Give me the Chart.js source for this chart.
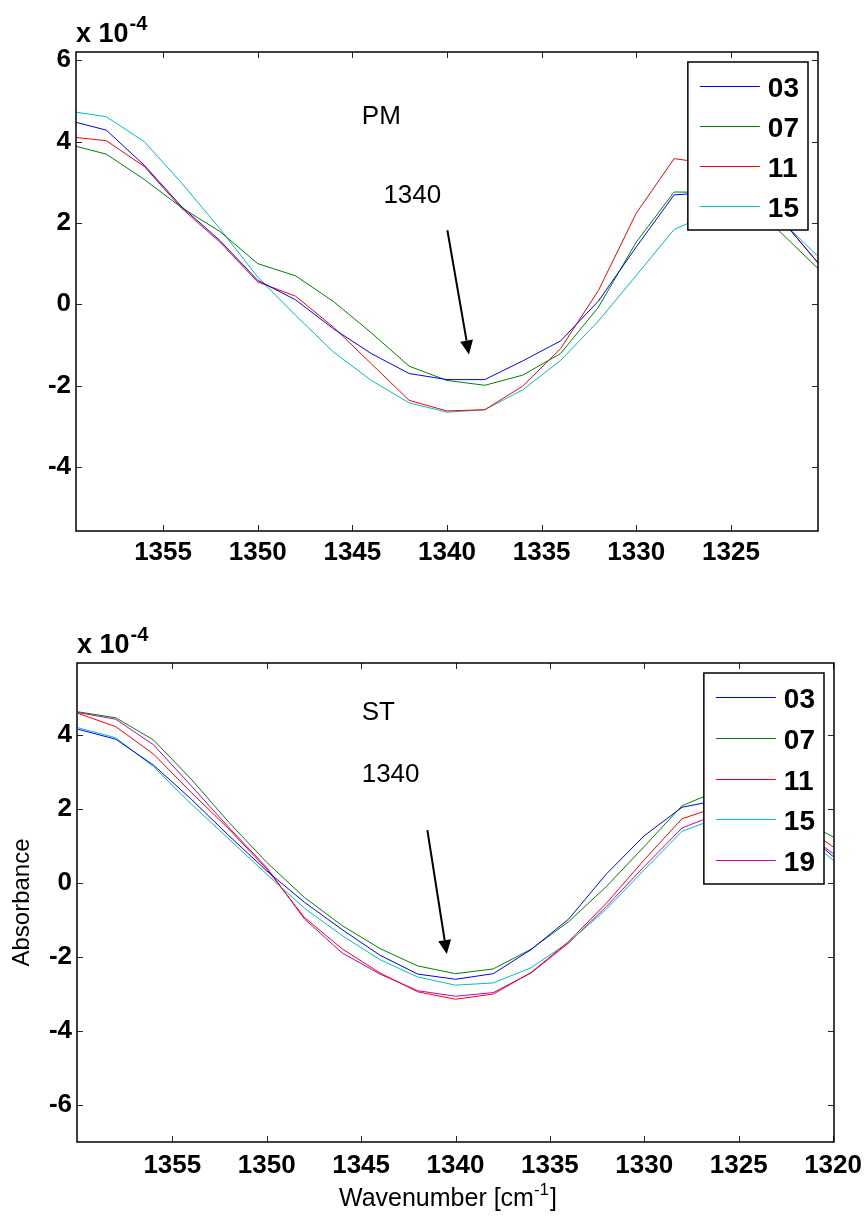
<!DOCTYPE html>
<html>
<head>
<meta charset="utf-8">
<script src="https://cdn.jsdelivr.net/npm/chart.js@4.4.1/dist/chart.umd.min.js"></script>
<style>
  body { margin: 0; background: #fff; }
  .box { position: absolute; left: 0; width: 866px; }
</style>
</head>
<body>
<div class="box" style="top:0;height:600px"><canvas id="pmChart" width="866" height="600"></canvas></div>
<div class="box" style="top:610px;height:610px"><canvas id="stChart" width="866" height="610"></canvas></div>
<script>
const FONT = '"Liberation Sans", Arial, sans-serif';
Chart.defaults.font.family = FONT;
Chart.defaults.color = '#000';

const wavenumbers = [1360, 1358, 1356, 1354, 1352, 1350, 1348, 1346, 1344, 1342, 1340,
                     1338, 1336, 1334, 1332, 1330, 1328, 1326, 1324, 1322, 1320];

// PM spectra (x 10^-4)
const pmLabels = ['03', '07', '11', '15'];
const pm03 = [4.52, 4.28, 3.42, 2.39, 1.57, 0.59, 0.11, -0.60, -1.21, -1.70, -1.85, -1.85, -1.39, -0.90, 0.08, 1.41, 2.69, 2.75, 2.60, 1.90, 0.80];
const pm07 = [3.93, 3.69, 3.07, 2.37, 1.79, 1.00, 0.70, 0.07, -0.70, -1.52, -1.87, -1.99, -1.74, -1.21, -0.07, 1.53, 2.76, 2.75, 2.50, 1.60, 0.70];
const pm11 = [4.12, 4.02, 3.39, 2.35, 1.53, 0.55, 0.20, -0.56, -1.46, -2.36, -2.62, -2.59, -2.01, -1.09, 0.34, 2.24, 3.58, 3.45, 2.90, 1.90, 0.80];
const pm15 = [4.75, 4.61, 4.00, 2.97, 1.86, 0.67, -0.27, -1.17, -1.87, -2.42, -2.65, -2.59, -2.10, -1.38, -0.41, 0.71, 1.84, 2.25, 2.30, 1.90, 1.00];

// ST spectra (x 10^-4)
const stLabels = ['03', '07', '11', '15', '19'];
const st03 = [4.16, 3.89, 3.19, 2.27, 1.28, 0.33, -0.52, -1.26, -1.95, -2.46, -2.60, -2.45, -1.80, -0.97, 0.25, 1.28, 2.05, 2.25, 2.05, 1.60, 0.72];
const st07 = [4.63, 4.47, 3.87, 2.81, 1.64, 0.56, -0.39, -1.15, -1.77, -2.24, -2.45, -2.32, -1.79, -1.04, -0.09, 0.99, 2.09, 2.52, 2.40, 1.80, 1.25];
const st11 = [4.59, 4.23, 3.49, 2.45, 1.46, 0.38, -0.93, -1.78, -2.43, -2.94, -3.14, -3.00, -2.42, -1.58, -0.54, 0.63, 1.74, 2.08, 2.05, 1.70, 0.98];
const st15 = [4.20, 3.93, 3.15, 2.14, 1.19, 0.24, -0.68, -1.42, -2.07, -2.54, -2.76, -2.70, -2.29, -1.60, -0.70, 0.36, 1.40, 1.78, 1.90, 1.45, 0.62];
const st19 = [4.61, 4.43, 3.74, 2.63, 1.50, 0.42, -0.97, -1.89, -2.46, -2.91, -3.06, -2.96, -2.43, -1.62, -0.63, 0.45, 1.49, 1.89, 1.95, 1.55, 0.80];

const pmXTicks = [1355, 1350, 1345, 1340, 1335, 1330, 1325];
const stXTicks = [1355, 1350, 1345, 1340, 1335, 1330, 1325, 1320];
const pmYTicks = [-4, -2, 0, 2, 4, 6];
const stYTicks = [-6, -4, -2, 0, 2, 4];

const seriesColors = ['#0000ff', '#008000', '#ff0000', '#00bfbf', '#bf00bf'];

function makeDatasets(labels, series) {
  return labels.map((lab, i) => ({
    label: lab,
    data: wavenumbers.map((w, j) => ({ x: w, y: series[i][j] })),
    borderColor: seriesColors[i],
    borderWidth: 1,
    pointRadius: 0,
    tension: 0,
    fill: false
  }));
}

function toPx(chart, x, y) {
  return [chart.scales.x.getPixelForValue(x), chart.scales.y.getPixelForValue(y)];
}

// matlab look: box, inward ticks, exponent, notes, arrow, legend
function matlabDecor(cfg) {
  return {
    id: 'matlabDecor',
    afterDraw(chart) {
      const ctx = chart.ctx, a = chart.chartArea;
      ctx.save();

      ctx.strokeStyle = '#262626';
      ctx.lineWidth = 1;
      ctx.beginPath();
      chart.scales.x.ticks.forEach(t => {
        const xp = Math.round(chart.scales.x.getPixelForValue(t.value)) + 0.5;
        ctx.moveTo(xp, a.bottom); ctx.lineTo(xp, a.bottom - 6);
        ctx.moveTo(xp, a.top); ctx.lineTo(xp, a.top + 6);
      });
      chart.scales.y.ticks.forEach(t => {
        const yp = Math.round(chart.scales.y.getPixelForValue(t.value)) + 0.5;
        ctx.moveTo(a.left, yp); ctx.lineTo(a.left + 6, yp);
        ctx.moveTo(a.right, yp); ctx.lineTo(a.right - 6, yp);
      });
      ctx.stroke();

      ctx.strokeStyle = '#000';
      ctx.lineWidth = 1.5;
      ctx.strokeRect(a.left, a.top, a.right - a.left, a.bottom - a.top);

      // exponent
      ctx.fillStyle = '#000';
      ctx.textAlign = 'left';
      ctx.textBaseline = 'alphabetic';
      ctx.font = 'bold 27px ' + FONT;
      ctx.fillText('x 10', a.left, a.top - 10);
      const ew = ctx.measureText('x 10').width;
      ctx.font = 'bold 20px ' + FONT;
      ctx.fillText('-4', a.left + ew + 1, a.top - 22);

      // notes
      ctx.font = '26px ' + FONT;
      cfg.notes.forEach(n => {
        const [x, y] = toPx(chart, n.x, n.y);
        ctx.fillText(n.text, x, y);
      });

      // arrow
      const [x1, y1] = toPx(chart, cfg.arrow[0], cfg.arrow[1]);
      const [x2, y2] = toPx(chart, cfg.arrow[2], cfg.arrow[3]);
      const ang = Math.atan2(y2 - y1, x2 - x1);
      const hl = 14, hw = 6.5;
      const bx = x2 - hl * Math.cos(ang), by = y2 - hl * Math.sin(ang);
      ctx.lineWidth = 2;
      ctx.beginPath();
      ctx.moveTo(x1, y1); ctx.lineTo(bx, by);
      ctx.stroke();
      ctx.beginPath();
      ctx.moveTo(x2, y2);
      ctx.lineTo(bx + hw * Math.sin(ang), by - hw * Math.cos(ang));
      ctx.lineTo(bx - hw * Math.sin(ang), by + hw * Math.cos(ang));
      ctx.closePath();
      ctx.fill();

      // legend
      const ds = chart.data.datasets;
      ctx.font = 'bold 28px ' + FONT;
      let tw = 0;
      ds.forEach(d => { tw = Math.max(tw, ctx.measureText(d.label).width); });
      const bw = 80 + tw + 9;
      const bh = 48 + cfg.rowH * (ds.length - 1);
      const bl = a.right - 10 - bw, bt = a.top + 10;
      ctx.fillStyle = '#fff';
      ctx.fillRect(bl, bt, bw, bh);
      ctx.strokeStyle = '#000';
      ctx.lineWidth = 1.5;
      ctx.strokeRect(bl, bt, bw, bh);
      ds.forEach((d, i) => {
        const ry = Math.round(bt + 24 + i * cfg.rowH) + 0.5;
        ctx.strokeStyle = d.borderColor;
        ctx.lineWidth = 1;
        ctx.beginPath();
        ctx.moveTo(bl + 12, ry); ctx.lineTo(bl + 72, ry);
        ctx.stroke();
        ctx.fillStyle = '#000';
        ctx.fillText(d.label, bl + 80, ry + 10);
      });

      // axis titles
      if (cfg.titles) {
        ctx.fillStyle = '#000';
        ctx.font = '25px ' + FONT;
        const p1 = 'Wavenumber [cm', p3 = ']';
        const w1 = ctx.measureText(p1).width, w3 = ctx.measureText(p3).width;
        ctx.font = '17px ' + FONT;
        const w2 = ctx.measureText('-1').width;
        let sx = (a.left + a.right) / 2 - 8 - (w1 + w2 + w3) / 2;
        const base = a.bottom + 64;
        ctx.font = '25px ' + FONT;
        ctx.fillText(p1, sx, base);
        ctx.font = '17px ' + FONT;
        ctx.fillText('-1', sx + w1, base - 11);
        ctx.font = '25px ' + FONT;
        ctx.fillText(p3, sx + w1 + w2 + 1, base);

        ctx.translate(22, (a.top + a.bottom) / 2);
        ctx.rotate(-Math.PI / 2);
        ctx.textAlign = 'center';
        ctx.textBaseline = 'middle';
        ctx.font = '24px ' + FONT;
        ctx.fillText('Absorbance', 0, 0);
      }
      ctx.restore();
    }
  };
}

function makeChart(id, labels, series, opt) {
  return new Chart(document.getElementById(id), {
    type: 'line',
    data: { datasets: makeDatasets(labels, series) },
    options: {
      responsive: false,
      animation: false,
      devicePixelRatio: 1,
      layout: { padding: { left: 0, right: opt.padRight, top: opt.padTop, bottom: 0 } },
      plugins: { legend: { display: false }, tooltip: { enabled: false } },
      scales: {
        x: {
          type: 'linear',
          reverse: true,
          min: opt.xMin,
          max: opt.xMax,
          afterBuildTicks: s => { s.ticks = opt.xTicks.map(v => ({ value: v })); },
          afterFit: s => { s.height = opt.xHeight; s.paddingLeft = 0; s.paddingRight = 0; },
          grid: { display: false, drawTicks: false },
          border: { display: false },
          ticks: {
            autoSkip: false,
            maxRotation: 0,
            padding: opt.xPad,
            font: { size: 26, weight: 'bold' },
            callback: v => String(v)
          }
        },
        y: {
          min: opt.yMin,
          max: opt.yMax,
          afterBuildTicks: s => { s.ticks = opt.yTicks.map(v => ({ value: v })); },
          afterFit: s => { s.width = opt.yWidth; s.paddingTop = 0; s.paddingBottom = 0; },
          grid: { display: false, drawTicks: false },
          border: { display: false },
          ticks: {
            autoSkip: false,
            padding: 5,
            font: { size: 26, weight: 'bold' },
            callback: v => String(v)
          }
        }
      }
    },
    plugins: [matlabDecor(opt.decor)]
  });
}

makeChart('pmChart', pmLabels, [pm03, pm07, pm11, pm15], {
  xMin: 1320.4, xMax: 1359.6, xTicks: pmXTicks,
  yMin: -5.57, yMax: 6.2, yTicks: pmYTicks,
  padTop: 52, padRight: 48, xHeight: 69, yWidth: 76, xPad: 6,
  decor: {
    notes: [{ text: 'PM', x: 1344.5, y: 4.42 }, { text: '1340', x: 1343.36, y: 2.48 }],
    arrow: [1339.98, 1.82, 1338.84, -1.23],
    rowH: 40,
    titles: false
  }
});

makeChart('stChart', stLabels, [st03, st07, st11, st15, st19], {
  xMin: 1319.95, xMax: 1360.05, xTicks: stXTicks,
  yMin: -7.0, yMax: 5.95, yTicks: stYTicks,
  padTop: 53, padRight: 32, xHeight: 78, yWidth: 77, xPad: 8,
  decor: {
    notes: [{ text: 'ST', x: 1344.97, y: 4.41 }, { text: '1340', x: 1344.97, y: 2.74 }],
    arrow: [1341.49, 1.43, 1340.46, -1.92],
    rowH: 40.75,
    titles: true
  }
});
</script>
</body>
</html>
